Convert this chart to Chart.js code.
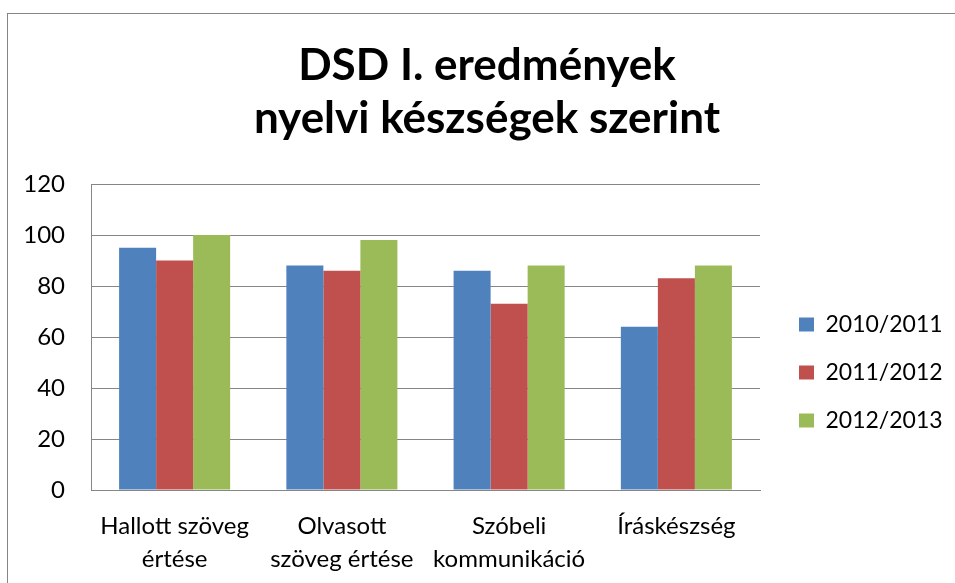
<!DOCTYPE html>
<html>
<head>
<meta charset="utf-8">
<script src="https://cdn.jsdelivr.net/npm/chart.js@4"></script>
<style>
  html, body { margin: 0; padding: 0; background: #fff; }
  #wrap { position: relative; width: 955px; height: 583px; overflow: hidden; }
  #frame { position: absolute; left: 7px; top: 13px; width: 980px; height: 620px; border: 1px solid #868686; pointer-events: none; }
  canvas { position: absolute; left: 0; top: 0; }
</style>
</head>
<body>
<div id="wrap">
  <canvas id="chartNyelvi" width="955" height="583"></canvas>
  <div id="frame"></div>
</div>
<script>
const titleLines = ['DSD I. eredmények', 'nyelvi készségek szerint'];
const categories = [
  ['Hallott szöveg', 'értése'],
  ['Olvasott', 'szöveg értése'],
  ['Szóbeli', 'kommunikáció'],
  'Íráskészség'
];
const seriesNames = ['2010/2011', '2011/2012', '2012/2013'];
const ev2010 = [95, 88, 86, 64];
const ev2011 = [90, 86, 73, 83];
const ev2012 = [100, 98, 88, 88];
const yTicks = [0, 20, 40, 60, 80, 100, 120];

const colors = ['#4F81BD', '#C0504D', '#9BBB59'];
const fontFamily = 'Lato, "Liberation Sans", sans-serif';
const gridColor = '#868686';

// legend is placed by hand after the layout, like in the excel chart
const legendPlace = {
  id: 'legendPlace',
  beforeLayout(chart) {
    const lg = chart.legend;
    if (lg && !lg._fixed) {
      const fit = lg.fit;
      lg.fit = function () { fit.call(this); this.width = 195; };
      lg._fixed = true;
    }
  },
  afterLayout(chart) {
    const lg = chart.legend;
    lg.left = chart.chartArea.right + 14;
    lg.top = 288;
  }
};

const ctx = document.getElementById('chartNyelvi');

new Chart(ctx, {
  type: 'bar',
  data: {
    labels: categories,
    datasets: [
      { label: seriesNames[0], data: ev2010, backgroundColor: colors[0] },
      { label: seriesNames[1], data: ev2011, backgroundColor: colors[1] },
      { label: seriesNames[2], data: ev2012, backgroundColor: colors[2] }
    ]
  },
  options: {
    responsive: false,
    animation: false,
    devicePixelRatio: 1,
    categoryPercentage: 0.664,
    barPercentage: 1,
    layout: { padding: { left: 19, right: 0, top: 0, bottom: 0 } },
    plugins: {
      tooltip: { enabled: false },
      title: {
        display: true,
        text: titleLines,
        color: '#000',
        font: { family: fontFamily, size: 44, weight: 'bold', lineHeight: '53px' },
        padding: { top: 39, bottom: 39 }
      },
      legend: {
        display: true,
        position: 'right',
        align: 'start',
        labels: {
          color: '#000',
          font: { family: fontFamily, size: 23 },
          boxWidth: 15,
          boxHeight: 14,
          padding: 25
        }
      }
    },
    scales: {
      x: {
        grid: { display: false, drawTicks: false },
        border: { display: true, color: gridColor, width: 1 },
        ticks: {
          color: '#000',
          font: { family: fontFamily, size: 24, lineHeight: '33px' },
          padding: 20,
          maxRotation: 0,
          autoSkip: false
        },
        afterFit(scale) { scale.height = 93; }
      },
      y: {
        min: 0,
        max: 120,
        afterBuildTicks(scale) { scale.ticks = yTicks.map(v => ({ value: v })); },
        grid: { color: gridColor, lineWidth: 1, drawTicks: false },
        border: { display: true, color: gridColor, width: 1 },
        ticks: {
          color: '#000',
          font: { family: fontFamily, size: 24 },
          padding: 26
        },
        afterFit(scale) { scale.width = 72; }
      }
    }
  },
  plugins: [legendPlace]
});
</script>
</body>
</html>
